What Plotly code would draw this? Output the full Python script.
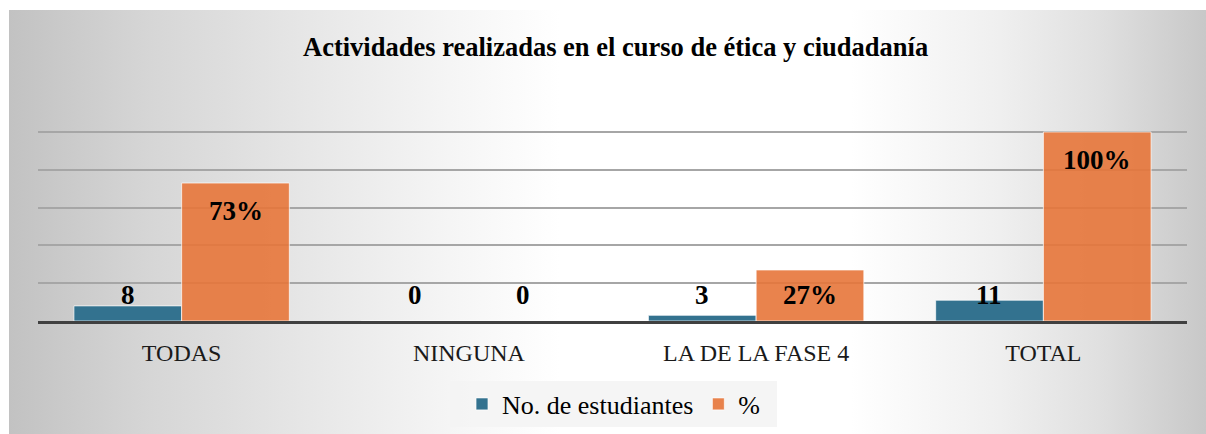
import plotly.graph_objects as go

categories = ["TODAS", "NINGUNA", "LA DE LA FASE 4", "TOTAL"]
estudiantes = [8, 0, 3, 11]
porcentaje = [73, 0, 27, 100]
estudiantes_labels = ["8", "0", "3", "11"]
porcentaje_labels = ["73%", "0", "27%", "100%"]

W, H = 1206, 434
SERIF = "Liberation Serif, Times New Roman, serif"
BLUE = "#33728f"
ORANGE = "rgba(231,118,58,0.9)"

fig = go.Figure()

# background panel with horizontal gray-white-gray gradient (pixel coords on hidden full-size axis)
bg_scale = [
    [0.0, "#c2c2c2"], [0.118, "#d6d6d6"], [0.243, "#e6e6e6"], [0.368, "#f5f5f5"],
    [0.46, "#ffffff"], [0.703, "#ffffff"], [0.828, "#efefef"], [0.911, "#e0e0e0"], [1.0, "#c8c8c8"],
]
fig.add_trace(go.Scatter(
    x=[9, W, W, 9, 9], y=[10, 10, H, H, 10],
    mode="lines", line=dict(width=0), fill="toself",
    fillgradient=dict(type="horizontal", colorscale=bg_scale),
    hoverinfo="skip", showlegend=False, xaxis="x", yaxis="y",
))

fig.add_trace(go.Bar(
    name="No. de estudiantes", x=categories, y=estudiantes,
    marker=dict(color=BLUE, line=dict(color="rgba(255,255,255,0.7)", width=1)),
    xaxis="x2", yaxis="y2", hoverinfo="skip",
))
fig.add_trace(go.Bar(
    name="%", x=categories, y=porcentaje,
    marker=dict(color=ORANGE, line=dict(color="rgba(255,255,255,0.7)", width=1)),
    xaxis="x2", yaxis="y2", hoverinfo="skip",
))

annotations = []
for series, labels, shift in ((estudiantes, estudiantes_labels, -54), (porcentaje, porcentaje_labels, 54)):
    for cat, v, lab in zip(categories, series, labels):
        annotations.append(dict(
            x=cat, y=max(v - 15, 13.6), xref="x2", yref="y2", xshift=shift,
            text="<b>%s</b>" % lab, showarrow=False,
            font=dict(family=SERIF, size=27, color="#000000"),
            xanchor="center", yanchor="middle",
        ))

annotations.append(dict(
    x=615 / W, y=1 - 47 / H, xref="paper", yref="paper",
    text="<b>Actividades realizadas en el curso de ética y ciudadanía</b>",
    showarrow=False, font=dict(family=SERIF, size=26.5, color="#000000"),
    xanchor="center", yanchor="middle",
))

shapes = [dict(
    type="rect", xref="paper", yref="paper",
    x0=450 / W, x1=777 / W, y0=1 - 427 / H, y1=1 - 381 / H,
    fillcolor="rgba(244,244,244,0.9)", line=dict(width=0), layer="above",
)]

Y_TOP = 104  # axis top in data units; gridlines every 20
px_per_unit = (321 - 132) / 100

fig.update_layout(
    width=W, height=H,
    margin=dict(l=0, r=0, t=0, b=0),
    paper_bgcolor="#ffffff", plot_bgcolor="rgba(0,0,0,0)",
    barmode="group", bargap=0.25, bargroupgap=0,
    annotations=annotations,
    shapes=shapes,
    xaxis=dict(domain=[0, 1], range=[0, W], visible=False, fixedrange=True),
    yaxis=dict(domain=[0, 1], range=[H, 0], visible=False, fixedrange=True),
    xaxis2=dict(
        domain=[38 / W, 1187 / W], anchor="y2",
        showline=True, linecolor="#404040", linewidth=3,
        showgrid=False, ticks="",
        tickfont=dict(family=SERIF, size=24, color="#1a1a1a"),
        ticklabelstandoff=8, fixedrange=True,
    ),
    yaxis2=dict(
        domain=[(H - 321) / H, (H - (321 - Y_TOP * px_per_unit)) / H], anchor="x2",
        range=[0, Y_TOP], tickvals=[20, 40, 60, 80, 100], showticklabels=False,
        showgrid=True, gridcolor="#a6a6a6", gridwidth=1.5,
        zeroline=False, showline=False, fixedrange=True,
    ),
    showlegend=True,
    legend=dict(
        orientation="h", x=614 / W, y=(H - 404) / H, xanchor="center", yanchor="middle",
        bgcolor="rgba(0,0,0,0)", borderwidth=0,
        font=dict(family=SERIF, size=26, color="#000000"),
        traceorder="normal",
    ),
)

fig.write_html("out.html", config={"displayModeBar": False},
               post_script="document.body.style.margin='0px';")
